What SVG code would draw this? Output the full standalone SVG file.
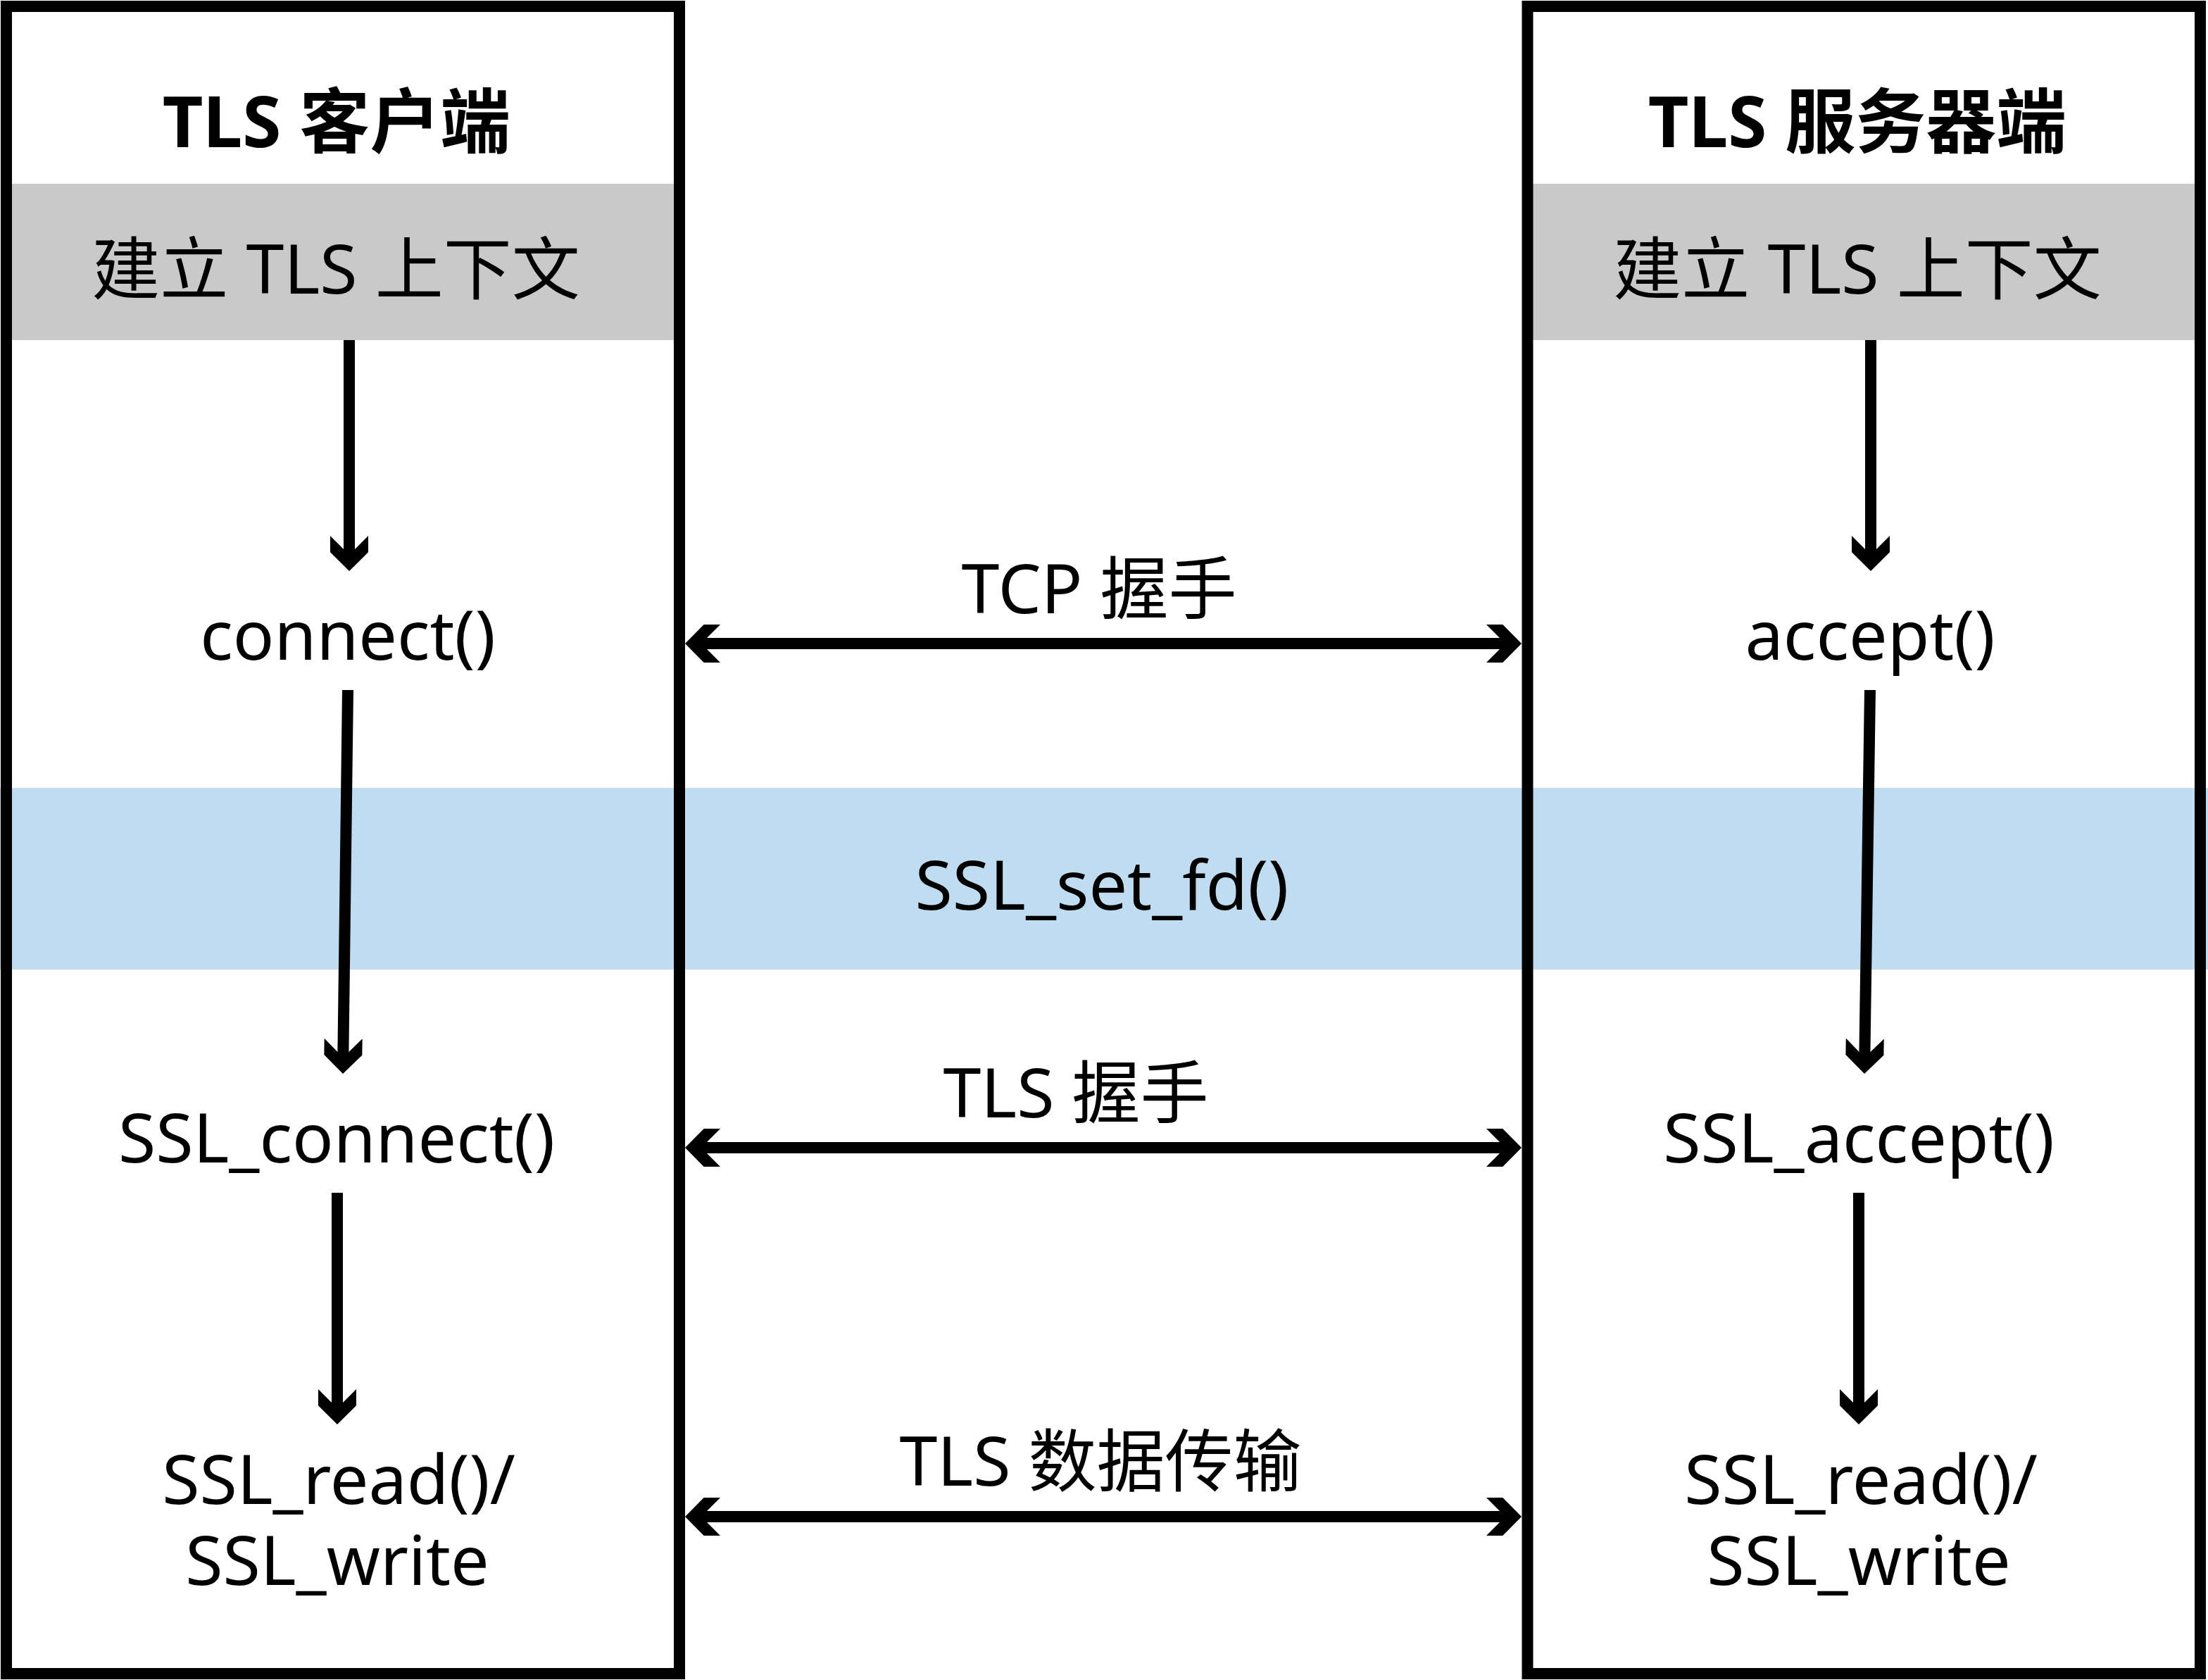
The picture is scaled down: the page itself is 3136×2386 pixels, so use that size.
<svg xmlns="http://www.w3.org/2000/svg" width="3136" height="2386" viewBox="0 0 3136 2386">
<style>
.box{fill:none;stroke:#000;stroke-width:16}
.ctx{fill:#C8C9C8}
.band{fill:#C0DCF1}
.t{font-family:"Noto Sans","Noto Sans CJK SC",sans-serif;font-size:97px;fill:#000;text-anchor:middle}
.h{font-family:"Noto Sans","Noto Sans CJK SC",sans-serif;font-size:100px;font-weight:700;fill:#000;text-anchor:middle}
.c{fill:none;stroke:#000;stroke-width:16}
</style>
<defs>
<marker id="ah" markerUnits="userSpaceOnUse" viewBox="-40 -30 70 60" markerWidth="70" markerHeight="60" refX="0" refY="0" orient="auto-start-reverse" overflow="visible">
<path d="M20,0 L-6.7,-27 L-30,-27 L-3,0 L-30,27 L-6.7,27 Z" fill="#000"/>
</marker>
</defs>
<rect x="0" y="0" width="3136" height="2386" fill="#fff"/>
<g id="ssl-set-fd">
<rect class="band" x="0" y="1119" width="3136" height="258"/>
<text class="t" x="1565" y="1292">SSL_set_fd()</text>
</g>
<g id="client">
<rect class="ctx" x="17" y="261" width="940" height="222"/>
<rect class="box" x="9" y="9" width="956" height="2368"/>
<text class="h" x="478" y="209">TLS 客户端</text>
<text class="t" x="477" y="417">建立 TLS 上下文</text>
</g>
<g id="server">
<rect class="ctx" x="2177" y="261" width="940" height="222"/>
<rect class="box" x="2169.5" y="9" width="955.5" height="2368"/>
<text class="h" x="2638" y="209">TLS 服务器端</text>
<text class="t" x="2638" y="417">建立 TLS 上下文</text>
</g>
<g id="client-connect"><text class="t" x="494" y="937">connect()</text></g>
<g id="client-ssl-connect"><text class="t" x="478" y="1651">SSL_connect()</text></g>
<g id="client-rw"><text class="t"><tspan x="481" y="2136">SSL_read()/</tspan><tspan x="479" y="2251">SSL_write</tspan></text></g>
<g id="server-accept"><text class="t" x="2656" y="937">accept()</text></g>
<g id="server-ssl-accept"><text class="t" x="2640" y="1651">SSL_accept()</text></g>
<g id="server-rw"><text class="t"><tspan x="2643" y="2136">SSL_read()/</tspan><tspan x="2640" y="2251">SSL_write</tspan></text></g>
<g id="connectors">
<line class="c" x1="496" y1="483" x2="496" y2="791" marker-end="url(#ah)"/>
<line class="c" x1="494" y1="980" x2="487.26" y2="1505" marker-end="url(#ah)"/>
<line class="c" x1="479" y1="1694" x2="479" y2="2003" marker-end="url(#ah)"/>
<line class="c" x1="2657" y1="483" x2="2657" y2="791" marker-end="url(#ah)"/>
<line class="c" x1="2656" y1="980" x2="2648.3" y2="1505" marker-end="url(#ah)"/>
<line class="c" x1="2640" y1="1694" x2="2640" y2="2003" marker-end="url(#ah)"/>
<line class="c" x1="993" y1="914" x2="2141" y2="914" marker-start="url(#ah)" marker-end="url(#ah)"/>
<line class="c" x1="993" y1="1630" x2="2141" y2="1630" marker-start="url(#ah)" marker-end="url(#ah)"/>
<line class="c" x1="993" y1="2154" x2="2141" y2="2154" marker-start="url(#ah)" marker-end="url(#ah)"/>
<text class="t" x="1561" y="871">TCP 握手</text>
<text class="t" x="1528" y="1587">TLS 握手</text>
<text class="t" x="1563" y="2110">TLS 数据传输</text>
</g>
</svg>
